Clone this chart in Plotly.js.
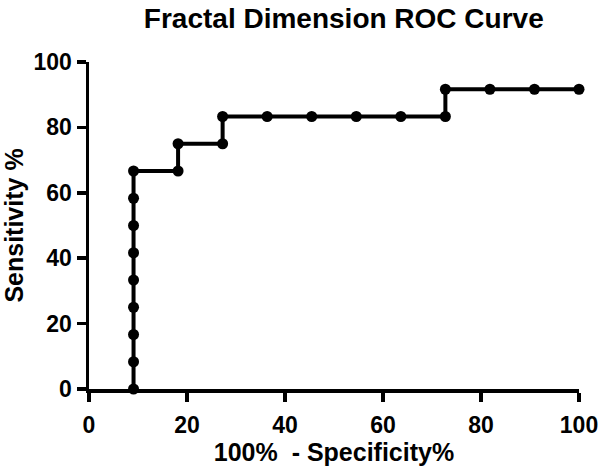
<!DOCTYPE html>
<html>
<head>
<meta charset="utf-8">
<script src="https://cdn.plot.ly/plotly-3.0.1.min.js"></script>
<style>
  html, body { margin: 0; padding: 0; background: #fff; }
  #chart { width: 600px; height: 468px; }
</style>
</head>
<body>
<div id="chart"></div>
<script>
// ROC points: 100% - specificity vs sensitivity (%)
const specPct = [
  9.09, 9.09, 9.09, 9.09, 9.09, 9.09, 9.09, 9.09, 9.09,
  18.18, 18.18, 27.27, 27.27, 36.36, 45.45, 54.55, 63.64,
  72.73, 72.73, 81.82, 90.91, 100
];
const sensPct = [
  0, 8.33, 16.67, 25, 33.33, 41.67, 50, 58.33, 66.67,
  66.67, 75, 75, 83.33, 83.33, 83.33, 83.33, 83.33,
  83.33, 91.67, 91.67, 91.67, 91.67
];
const tickVals = [0, 20, 40, 60, 80, 100];

const font = "Liberation Sans, Arial, sans-serif";

Plotly.newPlot(
  "chart",
  [
    {
      type: "scatter",
      mode: "lines+markers",
      x: specPct,
      y: sensPct,
      cliponaxis: false,
      line: { color: "#000", width: 4 },
      marker: { color: "#000", size: 11 },
      hoverinfo: "x+y"
    }
  ],
  {
    width: 600,
    height: 468,
    paper_bgcolor: "#fff",
    plot_bgcolor: "#fff",
    showlegend: false,
    margin: { l: 89, r: 21, t: 62, b: 79 },
    font: { family: font, color: "#000" },
    title: {
      text: "<b>Fractal Dimension ROC Curve</b>",
      font: { family: font, size: 28, color: "#000" },
      x: 0.573,
      xanchor: "center",
      y: 0.962,
      yanchor: "middle"
    },
    xaxis: {
      range: [0, 100],
      tickvals: tickVals,
      ticktext: tickVals.map(v => "<b>" + v + "</b>"),
      ticks: "outside",
      ticklen: 9,
      tickwidth: 3.5,
      tickcolor: "#000",
      ticklabelstandoff: 4,
      showline: true,
      linecolor: "#000",
      linewidth: 3.5,
      showgrid: false,
      zeroline: false,
      tickfont: { family: font, size: 23, color: "#000" },
      title: {
        text: "<b>100%  - Specificity%</b>",
        font: { family: font, size: 25, color: "#000" },
        standoff: 4
      }
    },
    yaxis: {
      range: [0, 100],
      tickvals: tickVals,
      ticktext: tickVals.map(v => "<b>" + v + "</b>"),
      ticks: "outside",
      ticklen: 9,
      tickwidth: 3.5,
      tickcolor: "#000",
      showline: true,
      linecolor: "#000",
      linewidth: 3.5,
      showgrid: false,
      zeroline: false,
      tickfont: { family: font, size: 23, color: "#000" },
      title: {
        text: "<b>Sensitivity %</b>",
        font: { family: font, size: 25, color: "#000" },
        standoff: 4
      }
    }
  },
  { displayModeBar: false, staticPlot: true }
);
</script>
</body>
</html>
